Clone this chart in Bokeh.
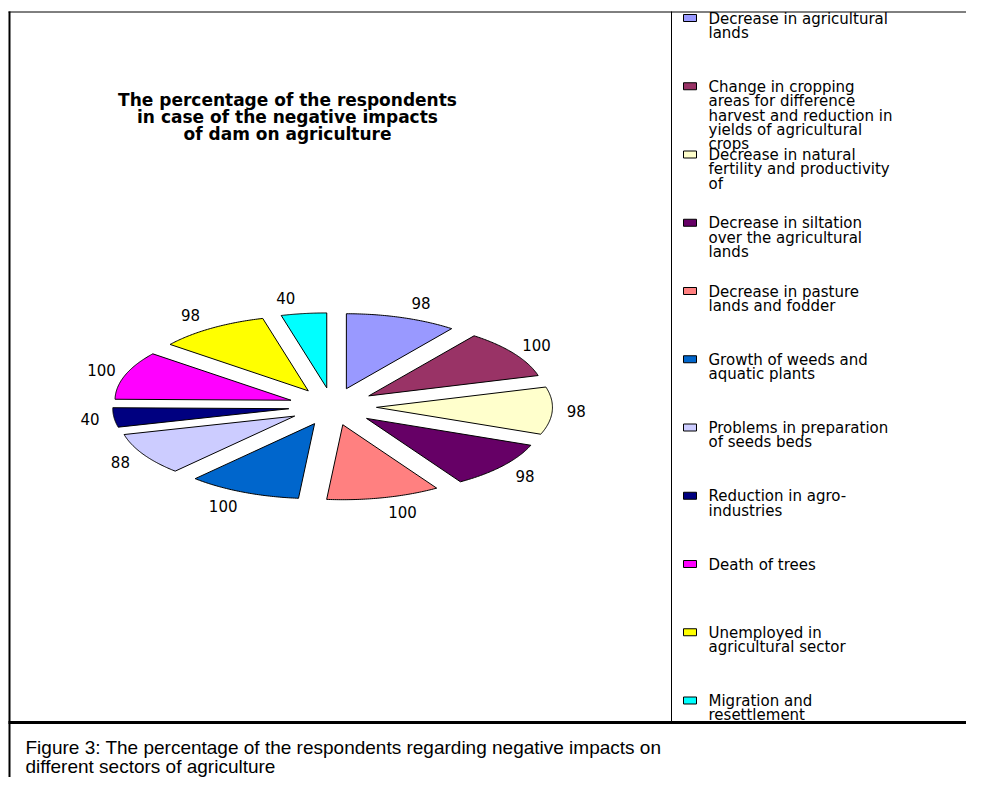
import numpy as np
from bokeh.plotting import figure
from bokeh.models import Range1d
from bokeh.core.properties import value
from bokeh.embed import file_html
from bokeh.resources import INLINE

# ---------------- data ----------------
categories = [
    "Decrease in agricultural\nlands",
    "Change in cropping\nareas for difference\nharvest and reduction in\nyields of agricultural\ncrops",
    "Decrease in natural\nfertility and productivity\nof",
    "Decrease in siltation\nover the agricultural\nlands",
    "Decrease in pasture\nlands and fodder",
    "Growth of weeds and\naquatic plants",
    "Problems in preparation\nof seeds beds",
    "Reduction in agro-\nindustries",
    "Death of trees",
    "Unemployed in\nagricultural sector",
    "Migration and\nresettlement",
]
values = [98, 100, 98, 98, 100, 100, 88, 40, 100, 98, 40]
colors = ["#9999FF", "#993366", "#FFFFCC", "#660066", "#FF8080", "#0066CC",
          "#CCCCFF", "#000080", "#FF00FF", "#FFFF00", "#00FFFF"]
chart_title = "The percentage of the respondents\nin case of the negative impacts\nof dam on agriculture"
caption_lines = ["Figure 3: The percentage of the respondents regarding negative impacts on",
                 "different sectors of agriculture"]

# ---------------- layout / style constants ----------------
W, H = 966, 777
CX, CY = 332.0, 406.0      # pie centre
R = 176.0                  # horizontal radius
K = 0.426                  # vertical squash (3-D tilt)
EXPL = 44.0                # explode distance
LAB_RX, LAB_RY, LAB_PAD = 227.0, 109.0, 17.0
CHART_FONT = "DejaVu Sans"

p = figure(width=W, height=H, x_range=Range1d(0, W), y_range=Range1d(H, 0),
           x_axis_type=None, y_axis_type=None, toolbar_location=None,
           output_backend="svg", min_border=0, outline_line_color=None,
           background_fill_color="white", border_fill_color="white")
p.grid.visible = False

# ---------------- pie ----------------
total = float(sum(values))
edges = np.concatenate([[0.0], np.cumsum(values)]) / total * 360.0
xs, ys, lx, ly = [], [], [], []
for i in range(len(values)):
    a0, a1 = edges[i], edges[i + 1]
    m = np.radians((a0 + a1) / 2.0)
    tx = CX + EXPL * np.sin(m)
    ty = CY - EXPL * K * np.cos(m)
    th = np.radians(np.linspace(a0, a1, 60))
    xs.append([tx] + list(tx + R * np.sin(th)))
    ys.append([ty] + list(ty - R * K * np.cos(th)))
    s = np.sin(m)
    lx.append(CX + LAB_RX * s + LAB_PAD * np.sign(s))
    ly.append(CY - LAB_RY * np.cos(m))

p.patches(xs, ys, fill_color=colors, line_color="black", line_width=1)
p.text(x=lx, y=ly, text=[str(v) for v in values], text_align="center",
       text_baseline="middle", text_font=value(CHART_FONT), text_font_size="15px",
       text_color="black")

# ---------------- title ----------------
p.text(x=[287], y=[89.5], text=[chart_title], text_align="center", text_baseline="top",
       text_font=value(CHART_FONT), text_font_style="bold", text_font_size="17px",
       text_line_height=0.86, text_color="black")

# ---------------- legend ----------------
leg_y = [17.5 + 68.25 * i for i in range(len(categories))]
p.rect(x=[689.5] * len(categories), y=leg_y, width=13, height=7,
       fill_color=colors, line_color="black", line_width=1)
p.text(x=[708] * len(categories), y=[v - 8.5 for v in leg_y], text=categories,
       text_align="left", text_baseline="top", text_font=value(CHART_FONT),
       text_font_size="15px", text_line_height=0.8, text_color="black")

# ---------------- frame lines ----------------
p.segment(x0=[8, 9, 671, 8], y0=[11.5, 11, 11, 722], x1=[W, 9, 671, W],
          y1=[11.5, H, 722, 722], line_color="black",
          line_width=[1, 2, 1, 3])

# ---------------- caption ----------------
p.text(x=[25, 25], y=[747, 766], text=caption_lines, text_align="left",
       text_baseline="alphabetic", text_font=value("Liberation Sans"),
       text_font_size="19px", text_color="black")

open("out.html", "w").write(file_html(p, INLINE))
